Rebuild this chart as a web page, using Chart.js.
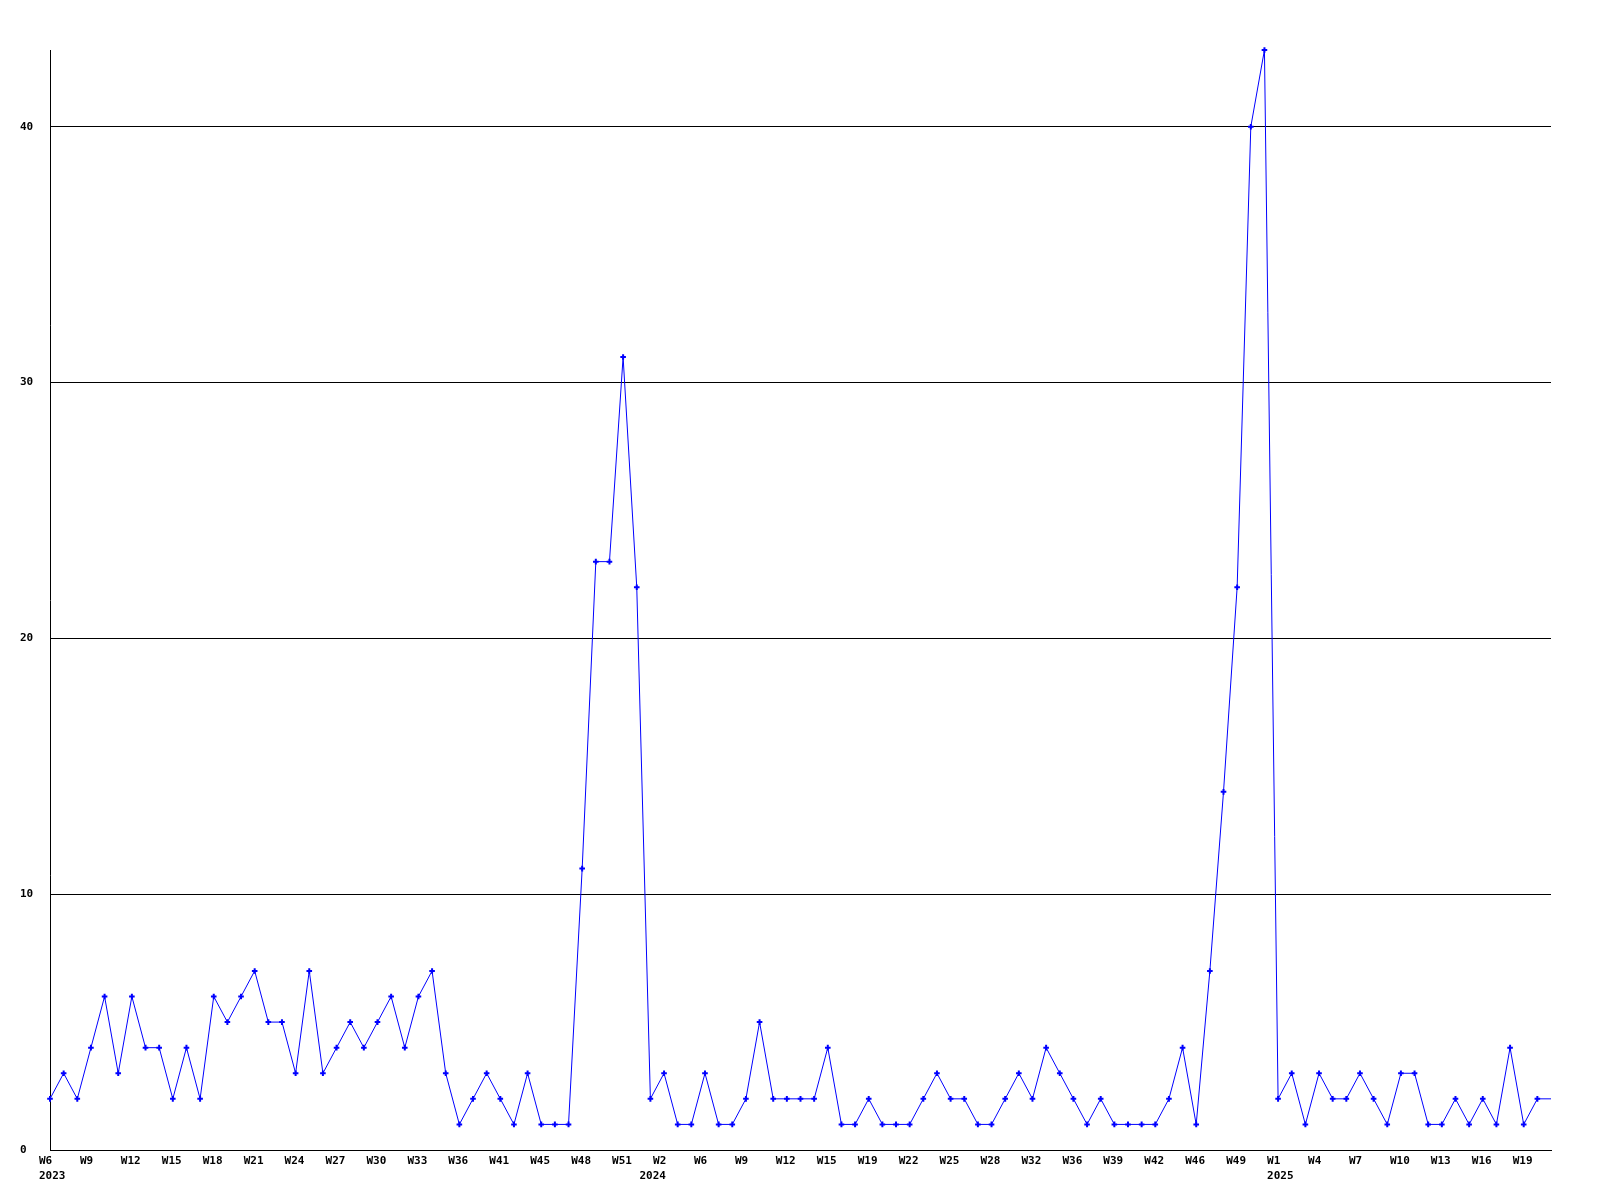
<!DOCTYPE html>
<html>
<head>
<meta charset="utf-8">
<title>Weekly count</title>
<script src="https://cdn.jsdelivr.net/npm/chart.js@4/dist/chart.umd.min.js"></script>
<style>
  html, body { margin: 0; padding: 0; background: #fff; }
  #wrap { width: 1600px; height: 1200px; }
</style>
</head>
<body>
<div id="wrap"><canvas id="weekly" width="1600" height="1200"></canvas></div>
<script>
/******* data *******/
// weeks per year (some weeks have no point, so they are skipped)
const weeks2023 = ['W6','W7','W8','W9','W10','W11','W12','W13','W14','W15','W16','W17','W18','W19','W20',
    'W21','W22','W23','W24','W25','W26','W27','W28','W29','W30','W31','W32','W33','W34','W35',
    'W36','W37','W39','W41','W42','W44','W45','W46','W47','W48','W49','W50','W51','W52'];
const counts2023 = [2,3,2,4,6,3,6,4,4,2,4,2,6,5,6,
    7,5,5,3,7,3,4,5,4,5,6,4,6,7,3,
    1,2,3,2,1,3,1,1,1,11,23,23,31,22];

const weeks2024 = ['W1','W2','W3','W5','W6','W7','W8','W9','W10','W11','W12','W13','W14','W15','W16',
    'W18','W19','W20','W21','W22','W23','W24','W25','W26','W27','W28','W29','W31','W32','W33',
    'W35','W36','W37','W38','W39','W40','W41','W42','W43','W45','W46','W47','W48','W49','W50','W52'];
const counts2024 = [2,3,1,1,3,1,1,2,5,2,2,2,2,4,1,
    1,2,1,1,1,2,3,2,2,1,1,2,3,2,4,
    3,2,1,2,1,1,1,1,2,4,1,7,14,22,40,43];

const weeks2025 = ['W1','W2','W3','W4','W5','W6','W7','W8','W9','W10','W11','W12','W13','W14','W15',
    'W16','W17','W18','W19','W20','W21'];
const counts2025 = [2,3,1,3,2,2,3,2,1,3,3,1,1,2,1,
    2,1,4,1,2,2];

const yearNames = ['2023', '2024', '2025'];
const yTicks = [0, 10, 20, 30, 40];

/******* building the series *******/
const weekLists = [weeks2023, weeks2024, weeks2025];
const countLists = [counts2023, counts2024, counts2025];
const labels = [].concat(...weekLists);
const counts = [].concat(...countLists);
const yearStart = {}; // index of first week of each year -> year
let pos = 0;
weekLists.forEach((list, n) => { yearStart[pos] = yearNames[n]; pos += list.length; });
const lastIndex = counts.length - 1;

const tickFont = { family: 'DejaVu Sans Mono', size: 11, weight: 'bold', lineHeight: 1.36 };

/******* chart *******/
const ctx = document.getElementById('weekly').getContext('2d');
const weeklyChart = new Chart(ctx, {
    type: 'line',
    data: {
        labels: labels,
        datasets: [{
            data: counts,
            borderColor: '#0000ff',
            backgroundColor: '#0000ff',
            borderWidth: 1,
            tension: 0,
            fill: false,
            clip: false,
            pointStyle: 'cross',
            pointRadius: c => c.dataIndex === lastIndex ? 0 : 2.8,
            pointBorderWidth: 2,
            pointBorderColor: '#0000ff',
            pointBackgroundColor: '#0000ff'
        }]
    },
    options: {
        responsive: false,
        animation: false,
        layout: { padding: { left: 20, right: 49, top: 50, bottom: 0 } },
        plugins: {
            legend: { display: false },
            tooltip: { enabled: false }
        },
        scales: {
            x: {
                type: 'category',
                offset: false,
                grid: { display: false, drawTicks: false },
                border: { display: true, color: '#000', width: 1 },
                afterFit: axis => { axis.height = 50; },
                ticks: {
                    autoSkip: false,
                    maxRotation: 0,
                    minRotation: 0,
                    align: 'start',
                    labelOffset: -11,
                    padding: 4,
                    color: '#000',
                    font: tickFont,
                    callback: (value, index) => {
                        const week = index % 3 === 0 ? labels[index] : '';
                        if (yearStart[index]) return [week, yearStart[index]];
                        return week || null;
                    }
                }
            },
            y: {
                min: 0,
                max: 43,
                grid: { color: '#000', lineWidth: 1, drawTicks: false },
                border: { display: true, color: '#000', width: 1 },
                afterFit: axis => { axis.width = 30; },
                afterBuildTicks: axis => { axis.ticks = yTicks.map(v => ({ value: v })); },
                ticks: {
                    crossAlign: 'far',
                    color: '#000',
                    font: tickFont
                }
            }
        }
    }
});
</script>
</body>
</html>
